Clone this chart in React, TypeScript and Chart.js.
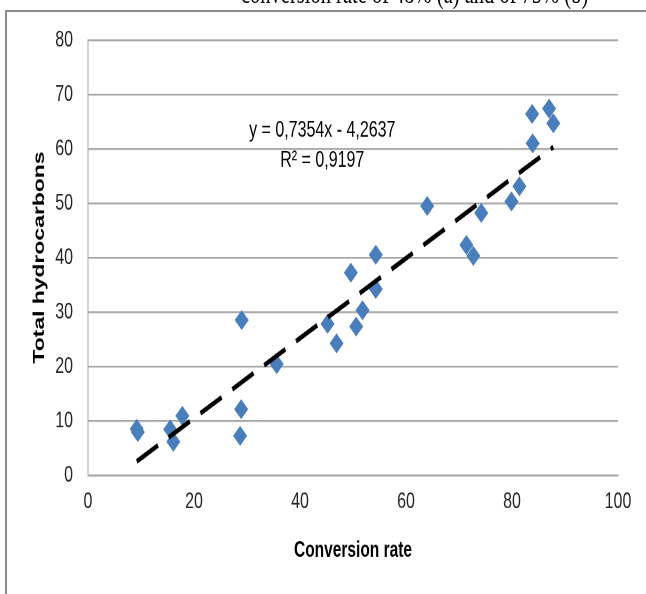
import React, { useEffect, useRef } from 'react';
import { Chart, registerables } from 'chart.js';

Chart.register(...registerables);

// ---- data ----
const conversionRate = [9.2, 9.4, 15.5, 16.1, 17.8, 28.7, 28.9, 29.0, 35.6, 45.2, 46.9, 49.6, 50.6, 51.8, 54.3, 54.3, 64.0, 71.4, 72.7, 74.2, 79.9, 81.4, 83.8, 83.9, 87.0, 87.8];
const totalHydrocarbons = [8.5, 7.9, 8.4, 6.1, 10.9, 7.2, 12.1, 28.5, 20.4, 27.8, 24.2, 37.2, 27.3, 30.3, 34.2, 40.5, 49.5, 42.3, 40.3, 48.2, 50.3, 53.1, 66.4, 61.0, 67.4, 64.7];
const trendSlope = 0.7354;
const trendIntercept = -4.2637;
const equationLabel = 'y = 0,7354x - 4,2637';
const r2Label = 'R² = 0,9197';
const xAxisTitle = 'Conversion rate';
const yAxisTitle = 'Total hydrocarbons';
const captionText = 'conversion rate of 48% (a) and of 75% (b)';
const xRange = [0, 100];
const yRange = [0, 80];
const xStep = 20;
const yStep = 10;

const W = 646;
const H = 415;
const S = 594 / H;
const FONT = '"Liberation Sans", Arial, sans-serif';

export default function App() {
  const ref = useRef<HTMLCanvasElement>(null);

  useEffect(() => {
    const canvas = ref.current!;
    const plotTop = 40 / S;
    const plotBottom = 475 / S;

    const points = conversionRate.map((x, i) => ({ x, y: totalHydrocarbons[i] }));
    const xmin = Math.min(...conversionRate);
    const xmax = Math.max(...conversionRate);
    const trend = [xmin, xmax].map((x) => ({ x, y: trendSlope * x + trendIntercept }));

    const annot = {
      id: 'annot',
      afterDatasetsDraw(chart: any) {
        const { ctx, scales } = chart;
        const xs = scales.x;
        const ys = scales.y;
        ctx.save();
        ctx.font = `16px ${FONT}`;
        ctx.fillStyle = '#000';
        ctx.textAlign = 'center';
        ctx.textBaseline = 'middle';
        ctx.fillText(equationLabel, xs.getPixelForValue(44.2), ys.getPixelForValue(63.4));
        ctx.fillText(r2Label, xs.getPixelForValue(44.2), ys.getPixelForValue(57.9));
        ctx.restore();
      },
    };

    const chart = new Chart(canvas, {
      type: 'scatter',
      data: {
        datasets: [
          {
            type: 'line',
            data: trend,
            borderColor: '#000',
            borderWidth: 3.4,
            borderDash: [24, 12],
            pointRadius: 0,
            fill: false,
            order: 0,
          } as any,
          {
            data: points,
            pointStyle: 'rectRot',
            pointRadius: 7,
            pointBackgroundColor: '#4A7EBB',
            pointBorderColor: '#4A7EBB',
            pointBorderWidth: 0,
            order: 1,
          },
        ],
      },
      plugins: [annot],
      options: {
        responsive: false,
        animation: false,
        devicePixelRatio: 2,
        layout: { padding: { top: plotTop, right: 28, bottom: 0, left: 0 } },
        plugins: { legend: { display: false }, tooltip: { enabled: false } },
        scales: {
          x: {
            type: 'linear',
            min: xRange[0],
            max: xRange[1],
            ticks: { stepSize: xStep, padding: 9, color: '#262626', font: { family: FONT, size: 16 } },
            grid: { display: false, drawTicks: false },
            border: { display: true, color: '#a6a6a6', width: 1.2 },
            title: {
              display: true,
              text: xAxisTitle,
              color: '#000',
              font: { family: FONT, size: 15.5, weight: 'bold' },
              padding: { top: 0, bottom: 21 },
            },
            afterFit(s: any) {
              s.height = H - plotBottom;
            },
          },
          y: {
            type: 'linear',
            min: yRange[0],
            max: yRange[1],
            ticks: { stepSize: yStep, padding: 15, color: '#262626', font: { family: FONT, size: 16 } },
            grid: { color: '#a6a6a6', lineWidth: 1.2, drawTicks: false },
            border: { display: true, color: '#a6a6a6', width: 1 },
            title: {
              display: true,
              text: yAxisTitle,
              color: '#000',
              font: { family: FONT, size: 16, weight: 'bold' },
              padding: { top: 30, bottom: 0 },
            },
            afterFit(s: any) {
              s.width = 88;
            },
          },
        },
      } as any,
    });
    return () => chart.destroy();
  }, []);

  return (
    <div style={{ position: 'fixed', left: 0, top: 0, width: W, height: 594, overflow: 'hidden', background: '#fff' }}>
      <div
        style={{
          position: 'absolute',
          left: 5,
          top: 10,
          width: 700,
          height: 700,
          borderLeft: '2px solid #8a8a8a',
          borderTop: '2px solid #8a8a8a',
        }}
      />
      <div style={{ position: 'absolute', left: 0, top: 0, width: W, height: H, transform: `scaleY(${S})`, transformOrigin: '0 0' }}>
        <div
          style={{
            position: 'absolute',
            left: 241,
            top: -15,
            fontFamily: '"Liberation Serif", "Times New Roman", serif',
            fontSize: '20.5px',
            lineHeight: '20px',
            whiteSpace: 'nowrap',
            color: '#000',
          }}
        >
          {captionText}
        </div>
        <canvas ref={ref} width={W} height={H} style={{ position: 'absolute', left: 0, top: 0 }} />
      </div>
    </div>
  );
}
